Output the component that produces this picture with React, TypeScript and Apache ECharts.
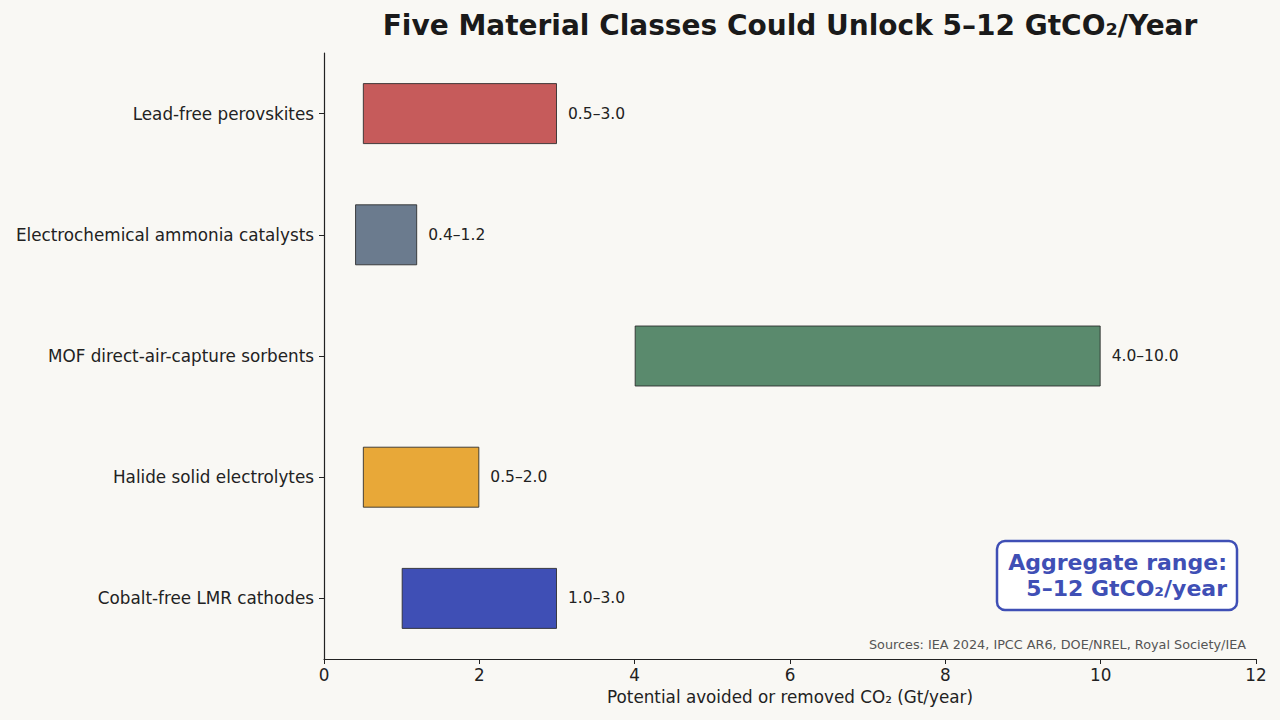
import React, { useEffect, useRef } from "react";
import * as echarts from "echarts";

// Data
const categories = [
  "Lead-free perovskites",
  "Electrochemical ammonia catalysts",
  "MOF direct-air-capture sorbents",
  "Halide solid electrolytes",
  "Cobalt-free LMR cathodes",
];
const lowValues = [0.5, 0.4, 4.0, 0.5, 1.0];
const highValues = [3.0, 1.2, 10.0, 2.0, 3.0];
const barColors = ["#c65b5b", "#6b7b8e", "#5a8a6d", "#e8a838", "#3f4fb5"];
const xTicks = [0, 2, 4, 6, 8, 10, 12];

const FONT = "'DejaVu Sans'";

const App: React.FC = () => {
  const chartRef = useRef<HTMLDivElement>(null);

  useEffect(() => {
    document.body.style.margin = "0";
    if (!chartRef.current) return;
    const chart = echarts.init(chartRef.current, undefined, { renderer: "svg" });

    const options = {
      animation: false,
      backgroundColor: "#f9f8f4",
      textStyle: { fontFamily: FONT },
      grid: { left: 324, right: 24, top: 53, bottom: 61 },
      xAxis: {
        type: "value",
        min: xTicks[0],
        max: xTicks[xTicks.length - 1],
        interval: 2,
        name: "Potential avoided or removed CO₂ (Gt/year)",
        nameLocation: "middle",
        nameGap: 29,
        nameTextStyle: { fontSize: 16.8, color: "#222", fontFamily: FONT },
        axisLine: { show: true, lineStyle: { color: "#222", width: 1.2 } },
        axisTick: { show: true, length: 5, lineStyle: { color: "#222" } },
        axisLabel: { fontSize: 16.8, color: "#222", margin: 7, fontFamily: FONT },
        splitLine: { show: false },
      },
      yAxis: {
        type: "category",
        inverse: true,
        data: categories,
        axisLine: { show: true, onZero: false, lineStyle: { color: "#222", width: 1.2 } },
        axisTick: { show: true, alignWithLabel: true, length: 5, lineStyle: { color: "#222" } },
        axisLabel: { fontSize: 16.8, color: "#222", margin: 10, fontFamily: FONT },
      },
      series: [
        {
          type: "bar",
          stack: "range",
          silent: true,
          barWidth: 61,
          itemStyle: { color: "transparent" },
          data: lowValues,
        },
        {
          type: "bar",
          stack: "range",
          barWidth: 61,
          data: highValues.map((h, i) => ({
            value: +(h - lowValues[i]).toFixed(2),
            itemStyle: {
              color: barColors[i],
              borderColor: "rgba(40,40,40,0.85)",
              borderWidth: 1,
            },
          })),
          label: {
            show: true,
            position: "right",
            distance: 11,
            fontSize: 15.5,
            color: "#222",
            fontFamily: FONT,
            formatter: (p: any) =>
              `${lowValues[p.dataIndex].toFixed(1)}–${highValues[p.dataIndex].toFixed(1)}`,
          },
        },
      ],
      graphic: [
        {
          type: "text",
          x: 790,
          y: 25,
          style: {
            text: "Five Material Classes Could Unlock 5–12 GtCO₂/Year",
            align: "center",
            verticalAlign: "middle",
            font: `bold 28px ${FONT}`,
            fill: "#1a1a1a",
          },
        },
        {
          type: "rect",
          shape: { x: 997, y: 541, width: 240, height: 69, r: 8 },
          style: { fill: "#ffffff", stroke: "#3f4fb5", lineWidth: 2.5 },
        },
        {
          type: "text",
          x: 1227,
          y: 562,
          style: {
            text: "Aggregate range:",
            align: "right",
            verticalAlign: "middle",
            font: `bold 22px ${FONT}`,
            fill: "#3f4fb5",
          },
        },
        {
          type: "text",
          x: 1227,
          y: 588,
          style: {
            text: "5–12 GtCO₂/year",
            align: "right",
            verticalAlign: "middle",
            font: `bold 22px ${FONT}`,
            fill: "#3f4fb5",
          },
        },
        {
          type: "text",
          x: 1246,
          y: 644,
          style: {
            text: "Sources: IEA 2024, IPCC AR6, DOE/NREL, Royal Society/IEA",
            align: "right",
            verticalAlign: "middle",
            font: `12.8px ${FONT}`,
            fill: "#555",
          },
        },
      ],
    };

    chart.setOption(options);
    return () => {
      chart.dispose();
    };
  }, []);

  return <div ref={chartRef} style={{ width: "1280px", height: "720px" }} />;
};

export default App;
